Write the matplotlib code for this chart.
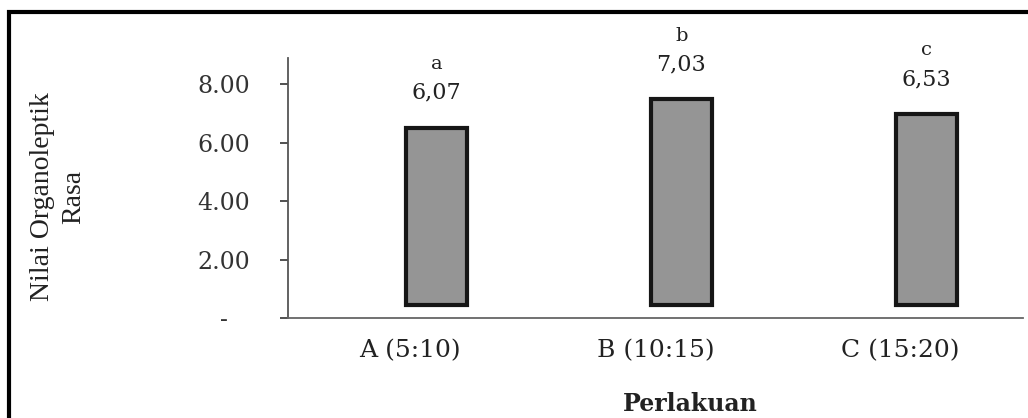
import matplotlib.pyplot as plt
import matplotlib.transforms as mtransforms
from matplotlib.patches import Rectangle

# data
perlakuan = ["A (5:10)", "B (10:15)", "C (15:20)"]
nilai = [6.07, 7.03, 6.53]
nilai_label = ["6,07", "7,03", "6,53"]
notasi = ["a", "b", "c"]
yticks = [0, 2, 4, 6, 8]
ytick_labels = ["-   ", "2.00", "4.00", "6.00", "8.00"]

plt.rcParams['font.family'] = ['DejaVu Serif', 'Liberation Serif']

fig = plt.figure(figsize=(10.28, 4.18), dpi=100)
ax = fig.add_axes([0.280, 0.239, 0.715, 0.622])

# 3D-style chart: bars are set back (right and up) from the floor edge
depth = mtransforms.offset_copy(ax.transData, fig=fig, x=26, y=13, units='dots')
x = list(range(len(perlakuan)))
ax.bar(x, nilai, width=0.25, color='#959595', edgecolor='#161616',
       linewidth=3, transform=depth, zorder=3)

for xi, v, lab, n in zip(x, nilai, nilai_label, notasi):
    ax.annotate(lab, (xi, v), xycoords=depth, xytext=(0, 25), textcoords='offset points',
                ha='center', va='center', fontsize=16, color='#222222')
    ax.annotate(n, (xi, v), xycoords=depth, xytext=(0, 46), textcoords='offset points',
                ha='center', va='center', fontsize=14, color='#222222')

ax.set_xlim(-0.5, 2.5)
ax.set_ylim(0, 8.89)
ax.set_yticks(yticks)
ax.set_yticklabels(ytick_labels)
ax.set_xticks(x)
ax.set_xticklabels(perlakuan)
ax.tick_params(axis='y', length=6, width=1.2, pad=21, labelsize=17, colors='#333333')
ax.tick_params(axis='x', length=0, pad=15, labelsize=18, colors='#222222')

for s in ['top', 'right']:
    ax.spines[s].set_visible(False)
ax.spines['left'].set_color('#555555')
ax.spines['bottom'].set_color('#666666')
ax.spines['left'].set_linewidth(1.3)
ax.spines['bottom'].set_linewidth(1.3)

fig.text(58 / 1028, 1 - 197 / 418, "Nilai Organoleptik\nRasa", rotation=90,
         ha='center', va='center', multialignment='center', fontsize=20,
         family='Liberation Serif', linespacing=1.3, color='#222222')
fig.text(690 / 1028, 1 - 404 / 418, "Perlakuan", ha='center', va='center',
         fontsize=17, fontweight='bold', color='#222222')

# outer frame of the scanned figure
fig.patches.append(Rectangle((0.009, -0.2), 1.1, 1.172, transform=fig.transFigure,
                             fill=False, edgecolor='black', linewidth=3, clip_on=False))

fig.savefig("out.png", dpi=100)
